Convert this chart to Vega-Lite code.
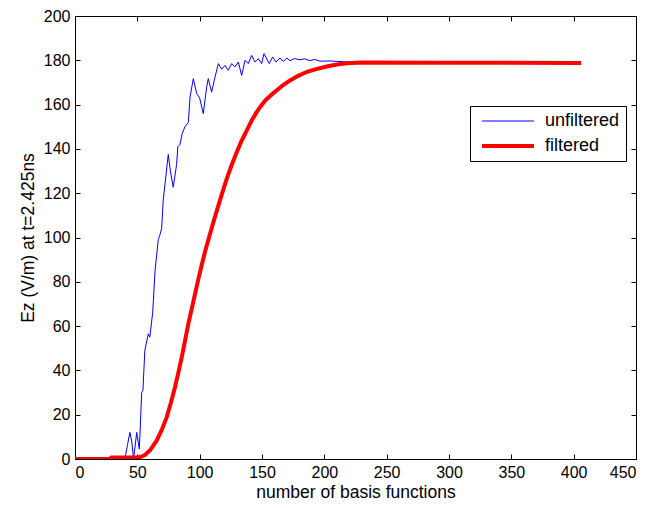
{
  "$schema": "https://vega.github.io/schema/vega-lite/v6.json",
  "width": 561,
  "height": 443,
  "autosize": "none",
  "padding": {"left": 75, "top": 16, "right": 19, "bottom": 49},
  "background": "white",
  "config": {
    "view": {"stroke": "black", "strokeWidth": 1},
    "font": "Liberation Sans",
    "axis": {
      "domainColor": "black",
      "tickColor": "black",
      "tickSize": -5,
      "labelPadding": 10,
      "labelColor": "black",
      "labelFontSize": 16,
      "labelFont": "Liberation Sans",
      "titleFont": "Liberation Sans",
      "titleFontSize": 17.5,
      "titleFontWeight": "normal",
      "titleColor": "black",
      "grid": false
    }
  },
  "data": {
    "values": [
      {"series": "unfiltered", "x": 0, "y": 0},
      {"series": "unfiltered", "x": 40, "y": 0},
      {"series": "unfiltered", "x": 42, "y": 6},
      {"series": "unfiltered", "x": 44, "y": 12},
      {"series": "unfiltered", "x": 45.5, "y": 8},
      {"series": "unfiltered", "x": 47, "y": 0},
      {"series": "unfiltered", "x": 49.5, "y": 12},
      {"series": "unfiltered", "x": 51.6, "y": 4.5},
      {"series": "unfiltered", "x": 53.5, "y": 30},
      {"series": "unfiltered", "x": 54.5, "y": 31},
      {"series": "unfiltered", "x": 56, "y": 49},
      {"series": "unfiltered", "x": 58.8, "y": 56.5},
      {"series": "unfiltered", "x": 60, "y": 55},
      {"series": "unfiltered", "x": 62.3, "y": 66},
      {"series": "unfiltered", "x": 64.2, "y": 85},
      {"series": "unfiltered", "x": 66.8, "y": 99},
      {"series": "unfiltered", "x": 68, "y": 101},
      {"series": "unfiltered", "x": 69.5, "y": 104},
      {"series": "unfiltered", "x": 70.8, "y": 117},
      {"series": "unfiltered", "x": 74.8, "y": 137.5},
      {"series": "unfiltered", "x": 76.5, "y": 130},
      {"series": "unfiltered", "x": 78.8, "y": 122.7},
      {"series": "unfiltered", "x": 81.5, "y": 133},
      {"series": "unfiltered", "x": 82.5, "y": 141},
      {"series": "unfiltered", "x": 84.2, "y": 142},
      {"series": "unfiltered", "x": 86, "y": 147},
      {"series": "unfiltered", "x": 88.2, "y": 150},
      {"series": "unfiltered", "x": 90.9, "y": 152},
      {"series": "unfiltered", "x": 92.3, "y": 163.4},
      {"series": "unfiltered", "x": 94.9, "y": 171.7},
      {"series": "unfiltered", "x": 97.6, "y": 165},
      {"series": "unfiltered", "x": 100, "y": 163},
      {"series": "unfiltered", "x": 102.9, "y": 155.9},
      {"series": "unfiltered", "x": 105.6, "y": 167.9},
      {"series": "unfiltered", "x": 106.9, "y": 171.7},
      {"series": "unfiltered", "x": 109.6, "y": 165.6},
      {"series": "unfiltered", "x": 112.3, "y": 172.4},
      {"series": "unfiltered", "x": 115, "y": 178.5},
      {"series": "unfiltered", "x": 117.7, "y": 176},
      {"series": "unfiltered", "x": 120.3, "y": 177.7},
      {"series": "unfiltered", "x": 123, "y": 175.5},
      {"series": "unfiltered", "x": 125.7, "y": 178.5},
      {"series": "unfiltered", "x": 128.3, "y": 177},
      {"series": "unfiltered", "x": 131, "y": 179.2},
      {"series": "unfiltered", "x": 133.7, "y": 173.2},
      {"series": "unfiltered", "x": 136.4, "y": 180},
      {"series": "unfiltered", "x": 139, "y": 178.5},
      {"series": "unfiltered", "x": 141.7, "y": 182.2},
      {"series": "unfiltered", "x": 144.4, "y": 179.2},
      {"series": "unfiltered", "x": 147.1, "y": 180.7},
      {"series": "unfiltered", "x": 149.7, "y": 178.5},
      {"series": "unfiltered", "x": 151.6, "y": 183},
      {"series": "unfiltered", "x": 155.8, "y": 178.5},
      {"series": "unfiltered", "x": 158.5, "y": 181.5},
      {"series": "unfiltered", "x": 161.2, "y": 179.2},
      {"series": "unfiltered", "x": 164.5, "y": 181},
      {"series": "unfiltered", "x": 167.1, "y": 179.5},
      {"series": "unfiltered", "x": 170, "y": 181},
      {"series": "unfiltered", "x": 172.5, "y": 179.8},
      {"series": "unfiltered", "x": 176, "y": 180.8},
      {"series": "unfiltered", "x": 180.5, "y": 180.2},
      {"series": "unfiltered", "x": 184, "y": 180.7},
      {"series": "unfiltered", "x": 188.5, "y": 179.8},
      {"series": "unfiltered", "x": 192, "y": 180.4},
      {"series": "unfiltered", "x": 196.5, "y": 179.6},
      {"series": "unfiltered", "x": 204.5, "y": 179.7},
      {"series": "unfiltered", "x": 220, "y": 179.2},
      {"series": "unfiltered", "x": 240, "y": 179},
      {"series": "unfiltered", "x": 260, "y": 178.9},
      {"series": "unfiltered", "x": 286, "y": 178.8},
      {"series": "filtered", "x": 0, "y": 0},
      {"series": "filtered", "x": 28, "y": 0},
      {"series": "filtered", "x": 29, "y": 0.7},
      {"series": "filtered", "x": 50, "y": 0.7},
      {"series": "filtered", "x": 53, "y": 1},
      {"series": "filtered", "x": 56.1, "y": 1.8},
      {"series": "filtered", "x": 60, "y": 3.8},
      {"series": "filtered", "x": 65.5, "y": 8.3},
      {"series": "filtered", "x": 69.5, "y": 13},
      {"series": "filtered", "x": 73.5, "y": 18.8},
      {"series": "filtered", "x": 77, "y": 25.5},
      {"series": "filtered", "x": 80.2, "y": 32.4},
      {"series": "filtered", "x": 83, "y": 39.2},
      {"series": "filtered", "x": 85.6, "y": 45.9},
      {"series": "filtered", "x": 88.3, "y": 53.5},
      {"series": "filtered", "x": 90.9, "y": 61},
      {"series": "filtered", "x": 93.6, "y": 67.8},
      {"series": "filtered", "x": 96.3, "y": 74.5},
      {"series": "filtered", "x": 99, "y": 81.3},
      {"series": "filtered", "x": 101.6, "y": 87.5},
      {"series": "filtered", "x": 104.5, "y": 94},
      {"series": "filtered", "x": 107.5, "y": 100},
      {"series": "filtered", "x": 110.5, "y": 106},
      {"series": "filtered", "x": 113.7, "y": 112},
      {"series": "filtered", "x": 117.5, "y": 119},
      {"series": "filtered", "x": 121.7, "y": 126.5},
      {"series": "filtered", "x": 125.5, "y": 132.5},
      {"series": "filtered", "x": 129.7, "y": 138.5},
      {"series": "filtered", "x": 133.5, "y": 143.5},
      {"series": "filtered", "x": 137.7, "y": 148.3},
      {"series": "filtered", "x": 141.7, "y": 152.8},
      {"series": "filtered", "x": 145.7, "y": 156.6},
      {"series": "filtered", "x": 149, "y": 159.3},
      {"series": "filtered", "x": 152.4, "y": 161.7},
      {"series": "filtered", "x": 159.1, "y": 165.2},
      {"series": "filtered", "x": 165.8, "y": 168.3},
      {"series": "filtered", "x": 172.5, "y": 170.9},
      {"series": "filtered", "x": 179, "y": 173},
      {"series": "filtered", "x": 185.8, "y": 174.7},
      {"series": "filtered", "x": 193.5, "y": 176},
      {"series": "filtered", "x": 201.9, "y": 177.2},
      {"series": "filtered", "x": 210, "y": 178.1},
      {"series": "filtered", "x": 218, "y": 178.7},
      {"series": "filtered", "x": 230, "y": 179},
      {"series": "filtered", "x": 300, "y": 178.9},
      {"series": "filtered", "x": 406, "y": 178.8}
    ]
  },
  "encoding": {
    "x": {"field": "x", "type": "quantitative", "scale": {"domain": [0, 450], "nice": false, "zero": false}},
    "y": {"field": "y", "type": "quantitative", "scale": {"domain": [0, 200], "nice": false}}
  },
  "layer": [
    {
      "mark": {"type": "line", "strokeJoin": "round", "strokeCap": "butt", "clip": true},
      "encoding": {
        "x": {"field": "x", "type": "quantitative", "axis": {"title": "number of basis functions", "values": [0,50,100,150,200,250,300,350,400,450], "titlePadding": 3}},
        "y": {"field": "y", "type": "quantitative", "axis": {"title": "Ez (V/m) at t=2.425ns", "values": [0,20,40,60,80,100,120,140,160,180,200], "titlePadding": 6}},
        "color": {
          "field": "series", "type": "nominal",
          "scale": {"domain": ["unfiltered", "filtered"], "range": ["#0000ff", "#ff0000"]},
          "legend": {
            "title": null, "orient": "none", "legendX": 395, "legendY": 90,
            "symbolType": "M-1,0H5.5", "symbolSize": 256, "symbolOffset": 4,
            "labelOffset": 45, "labelFontSize": 18, "labelColor": "black", "labelFont": "Liberation Sans",
            "strokeColor": "black", "fillColor": "white", "padding": 6, "rowPadding": 6
          }
        },
        "strokeWidth": {
          "field": "series", "type": "nominal",
          "scale": {"domain": ["unfiltered", "filtered"], "range": [1, 4]},
          "legend": {
            "title": null, "orient": "none", "legendX": 395, "legendY": 90,
            "symbolType": "M-1,0H5.5", "symbolSize": 256, "symbolOffset": 4,
            "labelOffset": 45, "labelFontSize": 18, "labelColor": "black", "labelFont": "Liberation Sans",
            "strokeColor": "black", "fillColor": "white", "padding": 6, "rowPadding": 6
          }
        },
        "order": {"field": "x", "type": "quantitative"}
      }
    },
    {
      "mark": {"type": "point", "opacity": 0},
      "encoding": {
        "x": {"field": "x", "type": "quantitative", "axis": {"orient": "top", "labels": false, "title": null, "values": [0,50,100,150,200,250,300,350,400,450]}},
        "y": {"field": "y", "type": "quantitative", "axis": {"orient": "right", "labels": false, "title": null, "values": [0,20,40,60,80,100,120,140,160,180,200]}}
      }
    }
  ],
  "resolve": {"axis": {"x": "independent", "y": "independent"}}
}
